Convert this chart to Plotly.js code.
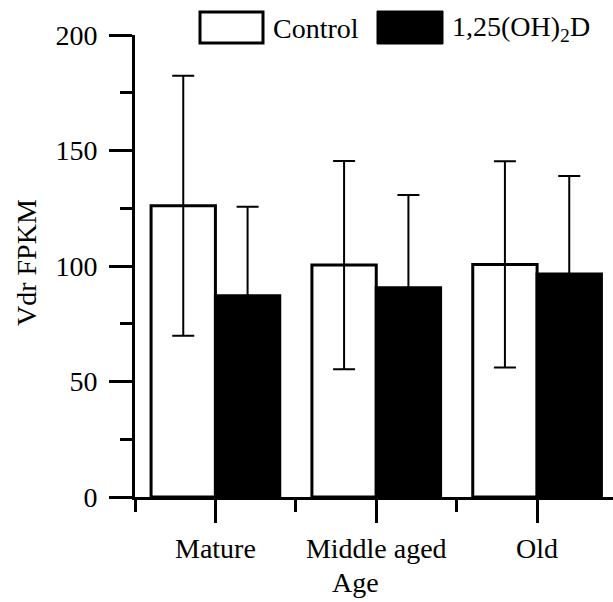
<!DOCTYPE html>
<html><head><meta charset="utf-8">
<script src="https://cdn.plot.ly/plotly-3.0.1.min.js"></script>
<style>html,body{margin:0;padding:0;background:#fff}</style>
</head><body>
<div id="chart" style="width:613px;height:602px"></div>
<script>
// ---- data ----
const categories = ["Mature", "Middle aged", "Old"];
const controlValues = [126.1, 100.4, 100.7];
const controlErrors = [56.3, 45.1, 44.6];
const treatedValues = [87.1, 90.6, 96.5];
const treatedErrors = [38.6, 40.1, 42.5];
const seriesNames = ["Control", "1,25(OH)<sub>2</sub>D"];
const yTickValues = [0, 50, 100, 150, 200];
const xTitle = "Age";
const yTitle = "Vdr FPKM";

const xPositions = categories.map((c, i) => i);
const FONT = "Liberation Serif, Times New Roman, serif";

const traces = [
  {
    type: "bar", name: seriesNames[0], x: xPositions, y: controlValues,
    marker: {color: "#ffffff", line: {color: "#000000", width: 3}},
    error_y: {type: "data", array: controlErrors, visible: true, color: "#000000", thickness: 2, width: 11},
    showlegend: false
  },
  {
    type: "bar", name: seriesNames[1], x: xPositions, y: treatedValues,
    marker: {color: "#000000", line: {color: "#000000", width: 3}},
    error_y: {type: "data", array: treatedErrors, visible: true, color: "#000000", thickness: 2, width: 11},
    showlegend: false
  }
];

// plot area in px: x 135..613, y 35..497
const L = 135, R = 613, T = 35, B = 497;
const px = v => (v - L) / (R - L);
const py = v => (B - v) / (B - T);

const layout = {
  width: 613, height: 602,
  margin: {l: L, r: 613 - R, t: T, b: 602 - B},
  paper_bgcolor: "#ffffff", plot_bgcolor: "#ffffff",
  font: {family: FONT, size: 28, color: "#000000"},
  barmode: "group", bargap: 0.2, bargroupgap: 0,
  showlegend: false,
  xaxis: {
    range: [-0.5, 2.472], fixedrange: true,
    tickmode: "array", tickvals: xPositions, ticktext: categories,
    ticks: "outside", ticklen: 23, tickwidth: 3, tickcolor: "#000",
    minor: {tickmode: "array", tickvals: [-0.5, 0.5, 1.5, 2.5], ticks: "outside", ticklen: 12, tickwidth: 3, tickcolor: "#000"},
    showline: true, linecolor: "#000", linewidth: 3,
    showgrid: false, zeroline: false,
    tickfont: {family: FONT, size: 28, color: "#000"},
    ticklabelstandoff: 1
  },
  yaxis: {
    range: [0, 200], fixedrange: true,
    tickmode: "array", tickvals: yTickValues,
    ticks: "outside", ticklen: 23, tickwidth: 3, tickcolor: "#000",
    minor: {tickmode: "linear", tick0: 0, dtick: 25, ticks: "outside", ticklen: 12, tickwidth: 3, tickcolor: "#000"},
    showline: true, linecolor: "#000", linewidth: 3,
    showgrid: false, zeroline: false,
    tickfont: {family: FONT, size: 28, color: "#000"},
    ticklabelstandoff: 6
  },
  shapes: [
    {type: "rect", xref: "paper", yref: "paper", x0: px(200), x1: px(263), y0: py(43), y1: py(12),
     fillcolor: "#ffffff", line: {color: "#000", width: 3}},
    {type: "rect", xref: "paper", yref: "paper", x0: px(377), x1: px(443), y0: py(44), y1: py(11),
     fillcolor: "#000000", line: {color: "#000", width: 1}}
  ],
  annotations: [
    {xref: "paper", yref: "paper", x: px(271), y: py(28), xanchor: "left", yanchor: "middle",
     text: seriesNames[0], showarrow: false, font: {family: FONT, size: 28, color: "#000"}},
    {xref: "paper", yref: "paper", x: px(450), y: py(28), xanchor: "left", yanchor: "middle",
     text: seriesNames[1], showarrow: false, font: {family: FONT, size: 28, color: "#000"}},
    {xref: "paper", yref: "paper", x: px(355), y: py(582), xanchor: "center", yanchor: "middle",
     text: xTitle, showarrow: false, font: {family: FONT, size: 28, color: "#000"}},
    {xref: "paper", yref: "paper", x: px(26), y: py(263), xanchor: "center", yanchor: "middle",
     textangle: -90, text: yTitle, showarrow: false, font: {family: FONT, size: 28, color: "#000"}}
  ]
};

Plotly.newPlot("chart", traces, layout, {displayModeBar: false, staticPlot: true});
</script>
</body></html>
